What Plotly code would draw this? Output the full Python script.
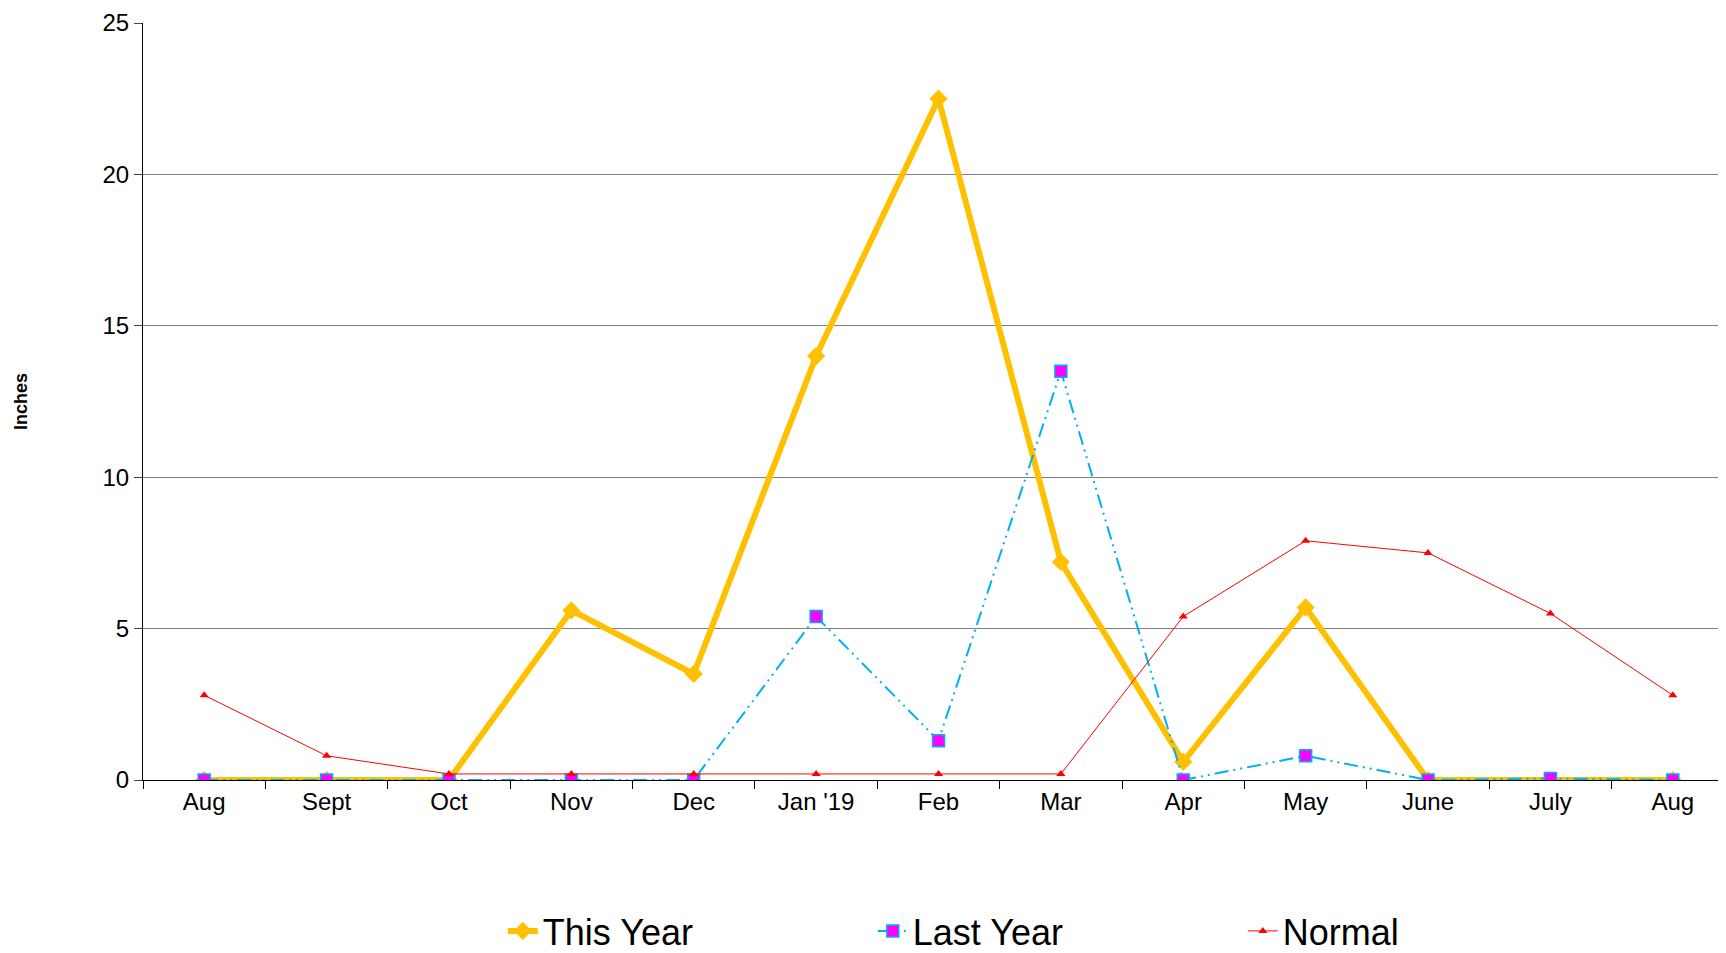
import plotly.graph_objects as go

months = ["Aug", "Sept", "Oct", "Nov", "Dec", "Jan '19", "Feb", "Mar", "Apr", "May", "June", "July", "Aug"]
this_year = [0, 0, 0, 5.6, 3.5, 14.0, 22.5, 7.2, 0.6, 5.7, 0, 0, 0]
last_year = [0, 0, 0, 0, 0, 5.4, 1.3, 13.5, 0, 0.8, 0, 0.05, 0]
normal = [2.8, 0.8, 0.2, 0.2, 0.2, 0.2, 0.2, 0.2, 5.4, 7.9, 7.5, 5.5, 2.8]

x = list(range(len(months)))
fig = go.Figure()
fig.add_trace(go.Scatter(
    x=x, y=this_year, name="This Year", mode="lines+markers",
    line=dict(color="#FFC000", width=6),
    marker=dict(symbol="diamond", size=14, color="#FFC000"),
))
fig.add_trace(go.Scatter(
    x=x, y=last_year, name="Last Year", mode="lines+markers",
    line=dict(color="#00B0F0", width=2, dash="14px,5px,2px,5px,2px,5px"),
    marker=dict(symbol="square", size=12, color="#FF00FF", line=dict(color="#00B0F0", width=1.5)),
))
fig.add_trace(go.Scatter(
    x=x, y=normal, name="Normal", mode="lines+markers",
    line=dict(color="#FF0000", width=1),
    marker=dict(symbol="triangle-up", size=8, color="#FF0000"),
))

fig.update_layout(
    width=1726, height=953,
    paper_bgcolor="white", plot_bgcolor="white",
    font=dict(family="Liberation Sans, Arial", color="black", size=24),
    margin=dict(l=135, r=0, t=15, b=178),
    legend=dict(orientation="h", x=0.575, xanchor="center", y=-0.16, yanchor="top",
                font=dict(size=36), entrywidth=325, tracegroupgap=0),
    xaxis=dict(
        range=[-0.5, 12.5], tickvals=x, ticktext=months, ticks="",
        showgrid=False, zeroline=False, showline=True, linecolor="black", linewidth=1,
        minor=dict(tick0=-0.5, dtick=1, ticks="outside", ticklen=8, tickcolor="black", showgrid=False),
    ),
    yaxis=dict(
        range=[0, 25], dtick=5, showgrid=True, gridcolor="#808080", gridwidth=1,
        zeroline=False, showline=True, linecolor="black", ticks="outside", ticklen=8,
        title=dict(text="<b>Inches</b>", font=dict(size=18), standoff=70),
    ),
)
fig.write_html("out.html")
